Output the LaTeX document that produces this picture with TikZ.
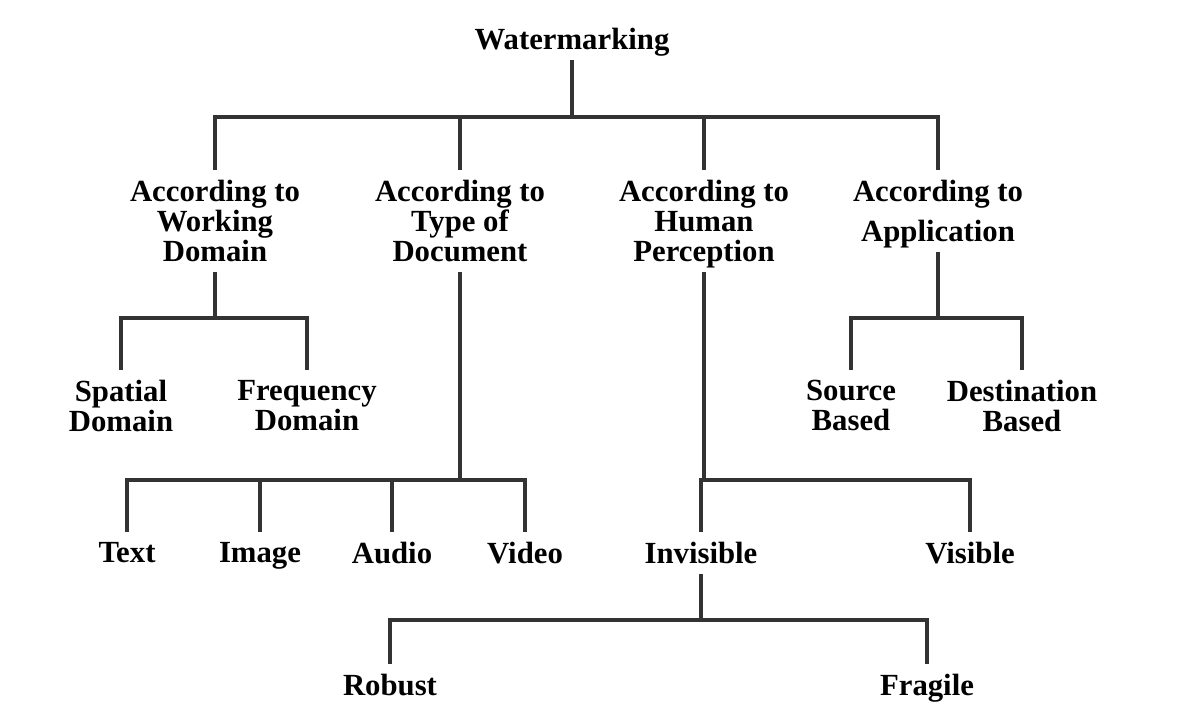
\documentclass[tikz,border=0pt]{standalone}
\usepackage{fontspec}
\setmainfont{Liberation Serif}

\tikzset{
  lbl/.style={font=\fontsize{17.5}{17}\selectfont\bfseries, align=center,
    inner xsep=0pt, inner ysep=5.7pt, text depth=0pt, anchor=north},
  branch/.style={line width=1.8pt, draw=black!80},
}

\begin{document}
\begin{tikzpicture}[x=0.02cm, y=-0.02cm]
\useasboundingbox (0,0) rectangle (1182,704);
% root
\node[lbl] (wm) at (572,18) {Watermarking};
% first level
\node[lbl] (awd) at (215,170) {According to\\Working\\Domain};
\node[lbl] (adoc) at (460,170) {According to\\Type of\\Document};
\node[lbl] (ahp) at (704,170) {According to\\Human\\Perception};
\node[lbl] (aapp) at (938,170) {According to\\[5.7pt]Application};
% second level
\node[lbl] (sd) at (121,370) {Spatial\\Domain};
\node[lbl] (fd) at (307,370) {Frequency\\Domain};
\node[lbl] (src) at (851,370) {Source\\Based};
\node[lbl] (dst) at (1022,370) {Destination\\Based};
\node[lbl] (text) at (127,532) {Text};
\node[lbl] (image) at (260,532) {Image};
\node[lbl] (audio) at (392,532) {Audio};
\node[lbl] (video) at (525,532) {Video};
\node[lbl] (inv) at (701,532) {Invisible};
\node[lbl] (vis) at (970,532) {Visible};
% third level
\node[lbl] (rob) at (390,664) {Robust};
\node[lbl] (frag) at (927,664) {Fragile};
%
% junctions of the bars
\coordinate (jroot) at (wm.south |- 0,117);
\coordinate (jwd) at (awd.south |- 0,318);
\coordinate (japp) at (aapp.south |- 0,318);
\coordinate (jdoc) at (adoc.south |- 0,480);
\coordinate (jhp) at (ahp.south |- 0,480);
\coordinate (jinv) at (inv.south |- 0,620);
%
\draw[branch] (wm.south) -- (jroot);
\foreach \c in {awd,adoc,ahp,aapp}
  \draw[branch] (jroot) -| (\c.north);
\draw[branch] (awd.south) -- (jwd);
\foreach \c in {sd,fd}
  \draw[branch] (jwd) -| (\c.north);
\draw[branch] (aapp.south) -- (japp);
\foreach \c in {src,dst}
  \draw[branch] (japp) -| (\c.north);
\draw[branch] (adoc.south) -- (jdoc);
\foreach \c in {text,image,audio,video}
  \draw[branch] (jdoc) -| (\c.north);
\draw[branch] (ahp.south) -- (jhp);
\foreach \c in {inv,vis}
  \draw[branch] (jhp) -| (\c.north);
\draw[branch] (inv.south) -- (jinv);
\foreach \c in {rob,frag}
  \draw[branch] (jinv) -| (\c.north);
\end{tikzpicture}
\end{document}
